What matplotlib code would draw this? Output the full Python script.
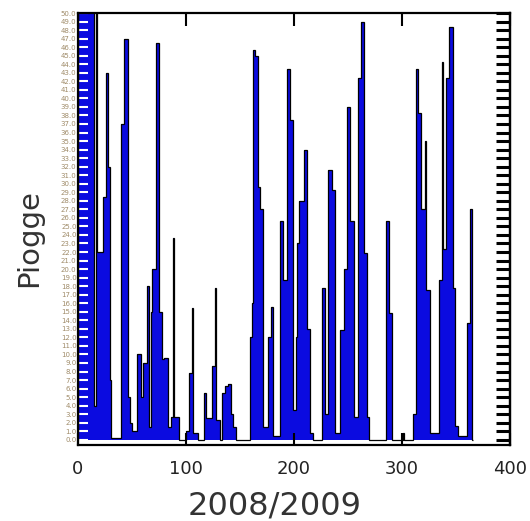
import numpy as np
import matplotlib
matplotlib.use('Agg')
import matplotlib.pyplot as plt

# rainy spells: first day, last day, mm per day
run_start = [0, 15, 17, 18, 23, 26, 28, 30, 31, 40, 43, 46, 48, 50, 55, 58, 60, 64, 66,
             68, 69, 72, 75, 78, 80, 83, 86, 88, 89, 100, 103, 106, 107,
             117, 119, 124, 127, 128, 133, 136, 139, 142, 144,
             159, 161, 162, 164, 167, 169, 171, 176, 179, 181,
             187, 190, 194, 196, 199, 202, 203, 205, 209, 212, 215,
             226, 229, 232, 235, 238, 243, 246, 249, 252, 256, 259, 262, 265, 268,
             285, 288, 301, 310, 313, 315, 318, 321, 322, 326, 334, 337, 338, 341,
             344, 347, 349, 352, 360, 363]
run_end = [14, 16, 17, 22, 25, 27, 29, 30, 39, 42, 45, 47, 49, 54, 57, 59, 63, 65, 67,
           68, 71, 74, 77, 79, 82, 85, 87, 88, 93, 102, 105, 106, 110,
           118, 123, 126, 127, 131, 135, 138, 141, 143, 145,
           160, 161, 163, 166, 168, 170, 175, 178, 180, 186,
           189, 193, 195, 198, 201, 202, 204, 208, 211, 214, 217,
           228, 231, 234, 237, 242, 245, 248, 251, 255, 258, 261, 264, 267, 269,
           287, 290, 301, 312, 314, 317, 320, 321, 325, 333, 336, 337, 340, 343,
           346, 348, 351, 359, 362, 364]
run_mm = [60, 4, 60, 22, 28.5, 43, 32, 7, 0.2, 37, 47, 5, 2, 1, 10, 5, 9, 18, 1.5,
          15, 20, 46.5, 15, 9.5, 9.6, 1.5, 2.7, 23.6, 2.7, 1, 7.8, 15.4, 0.8,
          5.5, 2.5, 8.6, 17.8, 2.3, 5.5, 6.3, 6.5, 3, 1.5,
          12, 16, 45.7, 45, 29.6, 27, 1.5, 12, 15.6, 0.4,
          25.6, 18.7, 43.5, 37.5, 3.5, 12, 23, 28, 34, 13, 0.8,
          17.8, 3, 31.6, 29.3, 0.8, 12.9, 20, 39, 25.6, 2.7, 42.4, 49, 21.9, 2.7,
          25.6, 14.8, 0.8, 3, 43.5, 38.3, 27, 35, 17.6, 0.8, 18.7, 44.3, 22.4, 42.4,
          48.4, 17.8, 1.6, 0.4, 13.7, 27]

n_days = 366
rain = np.zeros(n_days)
for s, e, v in zip(run_start, run_end, run_mm):
    rain[s:e + 1] = v
edges = np.arange(n_days + 1)

yticks = list(range(0, 51))
xticks = [0, 100, 200, 300, 400]

fig = plt.figure(figsize=(5.30, 5.21), dpi=100)
ax = fig.add_axes([0.147, 0.146, 0.815, 0.829])

ax.stairs(rain, edges, fill=True, color='#0b0be0', zorder=1)
ax.stairs(rain, edges, color='black', linewidth=0.9, zorder=2)

ax.set_xlim(0, 400)
ax.set_ylim(-0.6, 50)
ax.set_xticks(xticks)
ax.set_xticklabels([str(t) for t in xticks], fontsize=13, color='#222222')
ax.tick_params(axis='x', direction='in', length=9, width=1.5, top=True, pad=11)

ax.set_yticks(yticks)
ax.set_yticklabels([f'{t:.1f}' for t in yticks], fontsize=5, color='#a08c6a')
ax.tick_params(axis='y', direction='in', length=7, width=1.5, color='white', pad=1)

right = ax.secondary_yaxis('right')
right.set_yticks(yticks)
right.set_yticklabels([])
right.tick_params(axis='y', direction='in', length=10, width=2.2, color='black')
right.spines['right'].set_linewidth(1.6)

for sp in ax.spines.values():
    sp.set_linewidth(1.6)

ax.set_ylabel('Piogge', fontsize=21, color='#333333')
ax.yaxis.set_label_coords(-0.08, 0.48)
ax.set_xlabel('2008/2009', fontsize=23, color='#333333')
ax.xaxis.set_label_coords(0.455, -0.105)

fig.savefig('out.png', dpi=100)
